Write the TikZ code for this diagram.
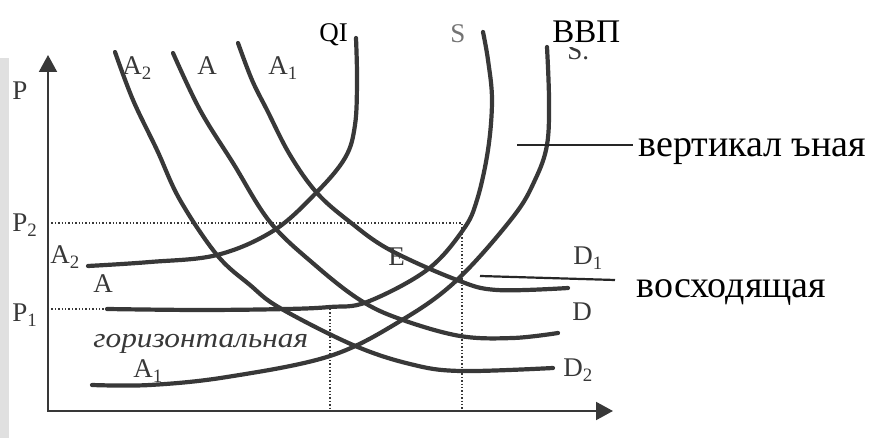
\documentclass[tikz,border=0pt]{standalone}
\usepackage{fontspec}
\usepackage{graphicx}
\setmainfont{Liberation Serif}
\usetikzlibrary{arrows.meta}
\definecolor{ScanInk}{HTML}{383838}
\definecolor{ScanEdge}{HTML}{E0E0E0}

\tikzset{
  curve/.style={line width=2.1pt, ScanInk, line cap=round},
  axis/.style={line width=1pt, ScanInk},
  guide/.style={line width=0.7pt, ScanInk, densely dotted},
  pointer/.style={line width=1.1pt, black!85},
  lbl/.style={anchor=base west, inner sep=0pt, text=ScanInk, font=\fontsize{13.5}{16}\selectfont},
  pastetext/.style={anchor=base west, fill=white, inner sep=1.5pt, font=\fontsize{19}{22}\selectfont}
}

\begin{document}
\begin{tikzpicture}[x=0.5pt, y=-0.5pt]
    \useasboundingbox (0,0) rectangle (875,438);

    % Scan edge
    \fill[ScanEdge] (0,58) rectangle (9,438);

    % Axes
    \draw[axis, {Triangle[length=8.5pt, width=9pt]}-{Triangle[length=8.5pt, width=9pt]}]
        (48,55) -- (48,411) -- (613,411);
    \node[lbl] (p) at (12,100) {P};
    \node[lbl] (p2) at (12,232) {P\textsubscript{2}};
    \node[lbl] (p1) at (12,322) {P\textsubscript{1}};

    % Price levels
    \draw[guide] (48,223) -- (462,223) -- (462,411);
    \draw[guide] (48,309) -- (107,309);
    \draw[guide] (330,309) -- (330,411);

    % Rising curves
    \draw[curve] plot[smooth, tension=0.6] coordinates {(88,266) (150,262) (217,255) (273,231)
        (315,194) (345,158) (355,125) (357,80) (356,38)};
    \draw[curve] plot[smooth, tension=0.6] coordinates {(107,309) (200,310) (287,309) (330,307)
        (367,302) (427,270) (463,230) (477,200) (488,150) (492,100) (488,60) (483,32)};
    \draw[curve] plot[smooth, tension=0.6] coordinates {(92,385) (150,385) (227,377) (330,356)
        (402,320) (457,280) (513,217) (535,180) (547,145) (549,100) (547,47)};

    % Falling curves
    \draw[curve] plot[smooth, tension=0.6] coordinates {(115,52) (133,100) (157,150) (180,200)
        (217,255) (250,285) (280,308) (353,345) (410,364) (460,371) (553,368)};
    \draw[curve] plot[smooth, tension=0.6] coordinates {(173,53) (200,110) (233,163) (270,222)
        (315,265) (360,300) (400,319) (460,336) (513,338) (558,333)};
    \draw[curve] plot[smooth, tension=0.6] coordinates {(238,43) (252,80) (267,110) (290,155)
        (317,193) (350,222) (390,250) (457,280) (497,290) (568,288)};

    % Curve labels
    \node[lbl] (a2top) at (122,75) {A\textsubscript{2}};
    \node[lbl] (atop) at (197,75) {A};
    \node[lbl] (a1top) at (268,75) {A\textsubscript{1}};
    \node[lbl] (a2left) at (50,264) {A\textsubscript{2}};
    \node[lbl] (aleft) at (93,293) {A};
    \node[lbl] (a1left) at (133,378) {A\textsubscript{1}};
    \node[lbl] (e) at (388,266) {E};
    \node[lbl] (d1) at (573,265) {D\textsubscript{1}};
    \node[lbl] (d) at (572,321) {D};
    \node[lbl] (d2) at (563,377) {D\textsubscript{2}};
    \node[lbl, text=black!55] (s) at (450,43) {S};
    \node[lbl] (s1) at (567,60) {S.};
    \node[lbl, font=\fontsize{14}{16}\selectfont] (horiz) at (93,348) {\scalebox{1.12}[1]{\itshape горизонтальная}};

    % Pasted captions
    \draw[pointer] (517,145) -- (633,145);
    \draw[pointer] (480,276) -- (615,280);
    \node[pastetext] (vert) at (635,157) {вертикал ъная};
    \node[pastetext] (rise) at (633,298) {восходящая};
    \node[pastetext, font=\fontsize{13.5}{16}\selectfont, inner sep=1pt] (qi) at (317,42) {QI};
    \node[pastetext, font=\fontsize{16.5}{19}\selectfont, inner ysep=2pt, inner xsep=1pt] (gdp) at (550,43) {ВВП};
\end{tikzpicture}
\end{document}
